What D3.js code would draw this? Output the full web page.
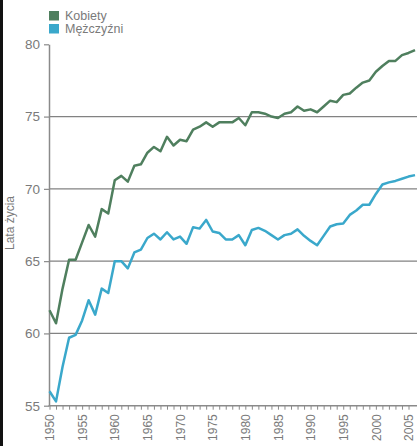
<!DOCTYPE html>
<html>
<head>
<meta charset="utf-8">
<script src="https://cdn.jsdelivr.net/npm/d3@7"></script>
<style>
  body { margin: 0; background: #fff; }
  svg { display: block; font-family: "Liberation Sans", Arial, sans-serif; }
</style>
</head>
<body>
<svg id="svg" width="417" height="446"></svg>
<script>
const years = d3.range(1950, 2007)

const kobiety = [
    61.6, 60.7, 63.1, 65.1, 65.1, 66.3, 67.5, 66.7, 68.6, 68.3,
    70.6, 70.9, 70.5, 71.6, 71.7, 72.5, 72.9, 72.6, 73.6, 73.0,
    73.4, 73.3, 74.1, 74.3, 74.6, 74.3, 74.6, 74.6, 74.6, 74.9,
    74.4, 75.3, 75.3, 75.2, 75.0, 74.9, 75.2, 75.3, 75.7, 75.4,
    75.5, 75.3, 75.7, 76.1, 76.0, 76.5, 76.6, 77.0, 77.35, 77.5,
    78.1, 78.5, 78.85, 78.85, 79.25, 79.4, 79.6
]

const mezczyzni = [
    56.0, 55.3, 57.7, 59.7, 59.9, 60.9, 62.3, 61.3, 63.1, 62.8,
    65.0, 65.0, 64.5, 65.6, 65.8, 66.6, 66.9, 66.5, 67.0, 66.5,
    66.7, 66.2, 67.35, 67.25, 67.85, 67.05, 66.95, 66.5, 66.5, 66.8,
    66.1, 67.15, 67.3, 67.1, 66.8, 66.5, 66.8, 66.9, 67.2, 66.75,
    66.4, 66.1, 66.75, 67.4, 67.55, 67.6, 68.2, 68.5, 68.9, 68.9,
    69.65, 70.3, 70.45, 70.55, 70.7, 70.85, 70.95
]

const seriesNames = ['Kobiety', 'Mężczyźni']
const colors = ['#4f7f5e', '#3aa8cb']
const yTicks = [55, 60, 65, 70, 75, 80]
const gridTicks = [60, 65, 70, 75]
const xTickYears = d3.range(1950, 2006)

let svg = d3.select('#svg')
const height = +(svg.attr('height'))
const width = +(svg.attr('width'))

const margin = { top: 44.3, bottom: 40.3, left: 49.5, right: 8.5 }
const innerHeight = height - margin.top - margin.bottom
const innerWidth = width - margin.left - margin.right

const xScale = d3.scaleLinear()
    .domain([1950, 2005])
    .range([0, innerWidth])

const yScale = d3.scaleLinear()
    .domain([55, 80])
    .range([innerHeight, 0])

// dark strip on the left edge
svg.append('rect').attr('x', 0).attr('y', 0).attr('width', 3).attr('height', height).attr('fill', '#111')

const group = svg.append('g')
    .attr('transform', `translate(${margin.left}, ${margin.top})`)

// grid lines
group.append('g').selectAll('line')
    .data(gridTicks)
    .join('line')
    .attr('x1', 0)
    .attr('x2', width - margin.left)
    .attr('y1', d => yScale(d))
    .attr('y2', d => yScale(d))
    .attr('stroke', '#828282')
    .attr('stroke-width', 1.2)

// y axis
const yAxis = d3.axisLeft(yScale)
    .tickValues(yTicks)
    .tickSize(5)
    .tickSizeOuter(0)
    .tickPadding(4)
const yG = group.append('g').attr('transform', 'translate(-0.5,0)').call(yAxis)
yG.select('.domain').attr('stroke', '#8a8a8a').attr('stroke-width', 1.5)
yG.selectAll('.tick line').attr('stroke', '#8a8a8a').attr('stroke-width', 1.2)
yG.selectAll('.tick text')
    .attr('font-size', '13.5px')
    .attr('fill', '#7a7a7a')
    .attr('font-family', '"Liberation Sans", Arial, sans-serif')

// x axis
const xAxis = d3.axisBottom(xScale)
    .tickValues(xTickYears)
    .tickSize(4)
    .tickSizeOuter(0)
    .tickFormat(d => d % 5 === 0 ? d : '')
const xG = group.append('g').attr('transform', `translate(0, ${innerHeight})`).call(xAxis)
xG.select('.domain').remove()
xG.selectAll('.tick line').attr('stroke', '#8a8a8a')
xG.selectAll('.tick text')
    .attr('transform', 'rotate(-90)')
    .attr('text-anchor', 'end')
    .attr('x', -8.5)
    .attr('y', 0)
    .attr('dy', '0.35em')
    .attr('font-size', '12px')
    .attr('fill', '#7a7a7a')
    .attr('font-family', '"Liberation Sans", Arial, sans-serif')

group.append('line')
    .attr('x1', -1)
    .attr('x2', width - margin.left)
    .attr('y1', innerHeight)
    .attr('y2', innerHeight)
    .attr('stroke', '#8a8a8a')
    .attr('stroke-width', 1.5)

// y axis title
svg.append('text').text('Lata życia')
    .attr('transform', 'translate(14, 223) rotate(-90)')
    .attr('text-anchor', 'middle')
    .attr('font-size', '12px')
    .attr('fill', '#7a7a7a')

// lines
const line = d3.line()
    .x((d, i) => xScale(years[i]))
    .y(d => yScale(d))

;[kobiety, mezczyzni].forEach((s, k) => {
    group.append('path')
        .datum(s)
        .attr('d', line)
        .attr('fill', 'none')
        .attr('stroke', colors[k])
        .attr('stroke-width', 2.5)
        .attr('stroke-linejoin', 'round')
})

// legend
seriesNames.forEach((name, k) => {
    const ly = 11 + k * 13
    svg.append('rect')
        .attr('x', 49).attr('y', ly)
        .attr('width', 10).attr('height', 9.5)
        .attr('fill', colors[k])
    svg.append('text').text(name)
        .attr('x', 65).attr('y', ly + 9)
        .attr('font-size', '12.5px')
        .attr('fill', '#7a7a7a')
})
</script>
</body>
</html>
